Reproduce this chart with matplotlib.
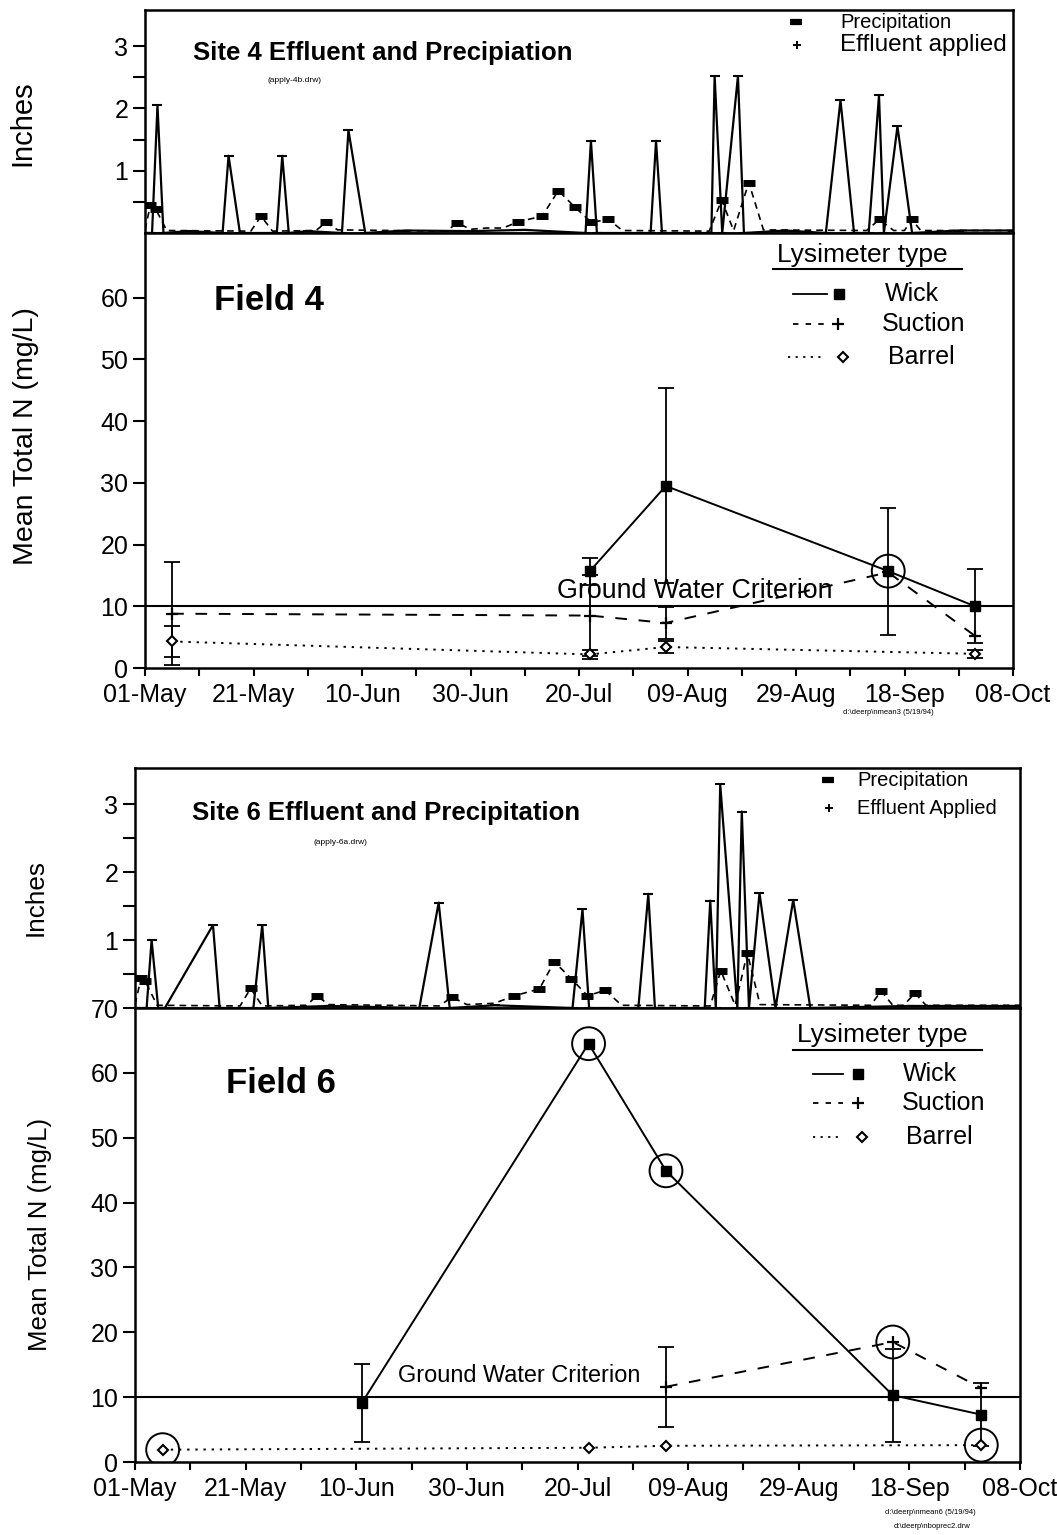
import numpy as np
import matplotlib.pyplot as plt
from matplotlib.lines import Line2D
from matplotlib.ticker import FixedLocator

plt.rcParams['font.family'] = ['Liberation Sans', 'DejaVu Sans']

W, H = 1057, 1535

# x values are days after 01-May
tick_days = list(range(0, 161, 20))
minor_days = list(range(10, 161, 20))
tick_labels = ['01-May', '21-May', '10-Jun', '30-Jun', '20-Jul',
               '09-Aug', '29-Aug', '18-Sep', '08-Oct']

# ---- Site 4 precipitation / effluent (inches)
s4_precip_days = [0, 1.3, 2.3, 3.4, 8, 14.3, 15.4, 17.5, 24.3, 25.3, 26.5, 30,
                  36.3, 37.5, 40.6, 48, 60, 70, 81.2, 82.2, 83.3, 93.2, 94.2,
                  95.3, 104.4, 105.0, 106.4, 109.3, 110.4, 118, 125.5, 128.2,
                  130.7, 133.4, 135.3, 136.2, 138.7, 141.4, 150, 160]
s4_precip_in = [0, 0, 2.05, 0, 0.03, 0, 1.24, 0, 0, 1.24, 0, 0.03,
                0, 1.65, 0, 0.04, 0.03, 0.05, 0, 1.48, 0, 0, 1.48,
                0, 0, 2.52, 0, 2.52, 0, 0.04, 0, 2.13,
                0, 0, 2.21, 0, 1.71, 0, 0.04, 0.04]
s4_eff_days = [0, 1, 2, 4, 19.5, 21.4, 23.5, 31.5, 33.4, 35.5, 55.5, 57.6, 60,
               63, 66, 68.8, 73.2, 76.2, 79.3, 82.3, 85.4, 88, 104, 106.3, 108.5,
               111.3, 114, 133, 135.4, 138, 140, 141.3, 143, 160]
s4_eff_in = [0.05, 0.45, 0.38, 0.04, 0.03, 0.27, 0.03, 0.04, 0.17, 0.05, 0.03,
             0.16, 0.06, 0.08, 0.08, 0.18, 0.27, 0.68, 0.41, 0.17, 0.22, 0.04,
             0.03, 0.53, 0.04, 0.81, 0.05, 0.04, 0.22, 0.04, 0.04, 0.22, 0.04, 0.04]

# ---- Site 6 precipitation / effluent (inches)
s6_precip_days = [0, 2.1, 3.0, 4.2, 5.4, 14.1, 15.3, 21.4, 23.0, 24.1, 35, 51.4,
                  54.9, 56.9, 65, 79.1, 80.9, 82.1, 91.0, 92.8, 94.0, 103.0,
                  104.0, 105.0, 105.8, 108.9, 109.7, 111.0, 112.9, 115.8, 119.0,
                  122.1, 140, 160]
s6_precip_in = [0, 0, 1.0, 0, 0, 1.22, 0, 0, 1.22, 0, 0.03, 0,
                1.55, 0, 0.04, 0, 1.45, 0, 0, 1.68, 0, 0,
                1.58, 0, 3.29, 0, 2.89, 0, 1.69, 0, 1.59,
                0, 0.03, 0.03]
s6_eff_days = [0, 1.1, 1.8, 4, 19, 20.9, 23, 31, 32.9, 35, 55, 57.3, 60, 65,
               68.6, 73.1, 75.8, 78.9, 81.8, 85, 88, 104, 105.9, 108.5, 110.7,
               113, 133, 134.9, 137, 139, 141, 143, 160]
s6_eff_in = [0.05, 0.44, 0.40, 0.04, 0.03, 0.29, 0.03, 0.04, 0.18, 0.05, 0.03,
             0.16, 0.05, 0.07, 0.18, 0.28, 0.68, 0.43, 0.18, 0.26, 0.04, 0.03,
             0.55, 0.04, 0.81, 0.05, 0.04, 0.25, 0.04, 0.04, 0.22, 0.04, 0.04]

# ---- Field 4 mean total N (mg/L)
f4_wick_days = [82, 96, 137, 153]
f4_wick = [15.7, 29.5, 15.7, 10.0]
f4_wick_err = [2.2, 15.8, 10.3, 6.0]
f4_suction_days = [5, 82, 96, 137, 153]
f4_suction = [8.8, 8.5, 7.3, 15.5, 5.2]
f4_suction_err = [8.3, 6.5, 2.6, 0, 0]
f4_barrel_days = [5, 82, 96, 153]
f4_barrel = [4.3, 2.2, 3.4, 2.3]
f4_barrel_err = [2.5, 0.7, 0.9, 0.6]
f4_circled = [('wick', 2)]

# ---- Field 6 mean total N (mg/L)
f6_wick_days = [41, 82, 96, 137, 153]
f6_wick = [9.1, 64.5, 44.9, 10.3, 7.3]
f6_wick_err = [6.0, 0, 0, 7.2, 4.9]
f6_suction_days = [96, 137, 153]
f6_suction = [11.6, 18.5, 11.4]
f6_suction_err = [6.2, 0, 0]
f6_barrel_days = [5, 82, 96, 153]
f6_barrel = [1.9, 2.2, 2.5, 2.6]
f6_barrel_err = [0, 0, 0, 0]
f6_circled = [('wick', 1), ('wick', 2), ('suction', 1), ('barrel', 0), ('barrel', 3)]

criterion = 10

fig = plt.figure(figsize=(W / 100, H / 100), dpi=100)


def rect(l, t, r, b):
    return [l / W, 1 - b / H, (r - l) / W, (b - t) / H]


def fx(x):
    return x / W


def fy(y):
    return 1 - y / H


def frame(ax):
    for s in ax.spines.values():
        s.set_linewidth(1.8)


def precip_panel(ax, p_days, p_in, e_days, e_in, top):
    ax.plot(p_days, p_in, color='k', lw=1.6, marker='_', ms=7, mew=1.5)
    ax.plot(e_days, e_in, color='k', lw=1.2, ls=(0, (4, 3)))
    e_days = np.array(e_days)
    e_in = np.array(e_in)
    big = e_in >= 0.1
    ax.plot(e_days[big], e_in[big], ls='none', marker='_', ms=9, mew=5, color='k')
    ax.set_xlim(0, 160)
    ax.set_ylim(0, top)
    ax.set_xticks([])
    ax.yaxis.set_major_locator(FixedLocator([1, 2, 3]))
    ax.yaxis.set_minor_locator(FixedLocator([0.5, 1.5, 2.5]))
    ax.tick_params(axis='y', which='both', direction='out', length=9,
                   width=1.5, labelsize=18, pad=3)
    frame(ax)


def errbars(ax, days, vals, errs):
    d, v, e = np.array(days), np.array(vals), np.array(errs)
    k = e > 0
    if k.any():
        ax.errorbar(d[k], v[k], yerr=e[k], fmt='none', ecolor='k',
                    elinewidth=1.3, capsize=6, capthick=1.3, zorder=3)


def field_panel(ax, series, circled, ymax, yticks, gw_x, gw_y, gw_size):
    styles = {
        'wick': dict(ls='-', marker='s', ms=7, mfc='k', mec='k'),
        'suction': dict(ls=(0, (6, 6)), marker='+', ms=8, mew=1.6),
        'barrel': dict(ls=(0, (1.2, 3)), marker='D', ms=5, mfc='white', mec='k', mew=1.5),
    }
    for name, (days, vals, errs) in series.items():
        ax.plot(days, vals, color='k', lw=1.4, zorder=4, **styles[name])
        errbars(ax, days, vals, errs)
    cx = [series[n][0][i] for n, i in circled]
    cy = [series[n][1][i] for n, i in circled]
    ax.scatter(cx, cy, s=560, facecolors='none', edgecolors='k', linewidths=1.4, zorder=6)
    ax.axhline(criterion, color='k', lw=1.5, zorder=2)
    ax.text(gw_x, gw_y, 'Ground Water Criterion', fontsize=gw_size, va='baseline', ha='left')
    ax.set_xlim(0, 160)
    ax.set_ylim(0, ymax)
    ax.set_yticks(yticks)
    ax.set_xticks(tick_days)
    ax.set_xticklabels(tick_labels)
    ax.set_xticks(minor_days, minor=True)
    ax.tick_params(axis='y', direction='out', length=9, width=1.5, labelsize=18, pad=3)
    ax.tick_params(axis='x', which='both', direction='out', length=6, width=1.5,
                   labelsize=18, pad=5)
    frame(ax)


def lys_legend(title_xy, under, rows):
    fig.text(fx(title_xy[0]), fy(title_xy[1]), 'Lysimeter type', fontsize=19, va='center')
    fig.add_artist(Line2D([fx(under[0]), fx(under[1])], [fy(under[2])] * 2, color='k', lw=1.5))
    for (x0, x1, y, mx, tx, label), st in zip(rows, [
            dict(ls='-', marker='s', ms=7, mfc='k'),
            dict(ls=(0, (3, 4)), marker='+', ms=8, mew=1.6),
            dict(ls=(0, (1.2, 3)), marker='D', ms=5, mfc='white', mew=1.5)]):
        ls = st.pop('ls')
        fig.add_artist(Line2D([fx(x0), fx(x1)], [fy(y)] * 2, color='k', lw=1.3, ls=ls))
        fig.add_artist(Line2D([fx(mx)], [fy(y)], color='k', ls='none', **st))
        fig.text(fx(tx), fy(y), label, fontsize=18, va='center')


def precip_legend(rows):
    for (mx, y, tx, label, size), st in zip(rows, [dict(marker='_', ms=8, mew=4.5),
                                                   dict(marker='+', ms=6, mew=1.4)]):
        fig.add_artist(Line2D([fx(mx)], [fy(y)], color='k', ls='none', **st))
        fig.text(fx(tx), fy(y), label, fontsize=size, va='center')


# ---------------- Site 4 / Field 4
ax1 = fig.add_axes(rect(145, 10, 1013, 233))
precip_panel(ax1, s4_precip_days, s4_precip_in, s4_eff_days, s4_eff_in, 3.58)
ax2 = fig.add_axes(rect(145, 233, 1013, 668))
field_panel(ax2,
            {'wick': (f4_wick_days, f4_wick, f4_wick_err),
             'suction': (f4_suction_days, f4_suction, f4_suction_err),
             'barrel': (f4_barrel_days, f4_barrel, f4_barrel_err)},
            f4_circled, 70.5, range(0, 61, 10), 76, 11.3, 19.3)

fig.text(fx(193), fy(60), 'Site 4 Effluent and Precipiation', fontsize=18.5,
         fontweight='bold', va='baseline')
fig.text(fx(295), fy(80), '(apply-4b.drw)', fontsize=6, va='center', ha='center')
fig.text(fx(214), fy(310), 'Field 4', fontsize=25, fontweight='bold', va='baseline')
fig.text(fx(22), fy(123), 'Inches', fontsize=21, rotation=90, va='center', ha='center')
fig.text(fx(26), fy(436), 'Mean Total N (mg/L)', fontsize=20.5, rotation=90,
         va='center', ha='center')
fig.text(fx(888), fy(713), 'd:\\deerp\\nmean3 (5/19/94)', fontsize=5.5, va='center', ha='center')
precip_legend([(796, 22, 840, 'Precipitation', 14.5),
               (797, 45, 840, 'Effluent applied', 17.5)])
lys_legend((777, 255), (773, 962, 269),
           [(793, 827, 294, 839, 885, 'Wick'),
            (793, 827, 324, 838, 882, 'Suction'),
            (788, 823, 357, 843, 888, 'Barrel')])

# ---------------- Site 6 / Field 6
ax3 = fig.add_axes(rect(135, 768, 1020, 1008))
precip_panel(ax3, s6_precip_days, s6_precip_in, s6_eff_days, s6_eff_in, 3.53)
ax4 = fig.add_axes(rect(135, 1008, 1020, 1462))
field_panel(ax4,
            {'wick': (f6_wick_days, f6_wick, f6_wick_err),
             'suction': (f6_suction_days, f6_suction, f6_suction_err),
             'barrel': (f6_barrel_days, f6_barrel, f6_barrel_err)},
            f6_circled, 70, range(0, 71, 10), 47.5, 12.3, 16.9)

fig.text(fx(192), fy(820), 'Site 6 Effluent and Precipitation', fontsize=18.5,
         fontweight='bold', va='baseline')
fig.text(fx(340), fy(842), '(apply-6a.drw)', fontsize=6, va='center', ha='center')
fig.text(fx(226), fy(1093), 'Field 6', fontsize=25, fontweight='bold', va='baseline')
fig.text(fx(36), fy(898), 'Inches', fontsize=18.8, rotation=90, va='center', ha='center')
fig.text(fx(40), fy(1234), 'Mean Total N (mg/L)', fontsize=18.5, rotation=90,
         va='center', ha='center')
fig.text(fx(930), fy(1513), 'd:\\deerp\\nmean6 (5/19/94)', fontsize=5.5, va='center', ha='center')
fig.text(fx(932), fy(1527), 'd:\\deerp\\nboprec2.drw', fontsize=5.5, va='center', ha='center')
precip_legend([(828, 780, 857, 'Precipitation', 14.5),
               (829, 808, 857, 'Effluent Applied', 14.5)])
lys_legend((797, 1035), (793, 982, 1050),
           [(813, 843, 1074, 858, 903, 'Wick'),
            (813, 843, 1103, 858, 902, 'Suction'),
            (813, 841, 1137, 862, 906, 'Barrel')])

fig.savefig('out.png', dpi=100)
